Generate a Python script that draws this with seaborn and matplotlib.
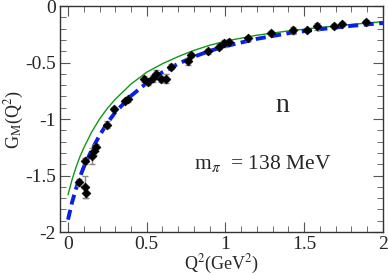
import numpy as np
import pandas as pd
import seaborn as sns
import matplotlib.pyplot as plt
from matplotlib.ticker import MultipleLocator

# lattice data points (Q^2, G_M, error)
q2_data = [0.07, 0.11, 0.115, 0.105, 0.15, 0.165, 0.175, 0.245, 0.29, 0.36, 0.38,
           0.48, 0.51, 0.54, 0.56, 0.59, 0.62, 0.655, 0.76, 0.78, 0.89, 0.96,
           0.99, 1.02, 1.14, 1.29, 1.43, 1.52, 1.58, 1.69, 1.74, 1.89]
gm_data = [-1.56, -1.60, -1.65, -1.37, -1.33, -1.28, -1.25, -1.05, -0.91, -0.84, -0.825,
           -0.645, -0.675, -0.64, -0.60, -0.645, -0.645, -0.537, -0.49, -0.435, -0.40, -0.36,
           -0.33, -0.315, -0.285, -0.24, -0.215, -0.21, -0.18, -0.177, -0.16, -0.14]
gm_err = [0.03, 0.10, 0.05, 0.03, 0.07, 0.04, 0.03, 0.03, 0.02, 0.02, 0.02,
          0.03, 0.02, 0.03, 0.03, 0.03, 0.04, 0.02, 0.03, 0.02, 0.02, 0.02,
          0.03, 0.02, 0.02, 0.02, 0.03, 0.02, 0.03, 0.02, 0.02, 0.02]

# green solid curve
q2_green = [0.0, 0.025, 0.05, 0.075, 0.1, 0.15, 0.2, 0.25, 0.3, 0.4, 0.5, 0.6, 0.7,
            0.8, 0.9, 1.0, 1.2, 1.4, 1.6, 1.8, 2.0]
gm_green = [-1.67, -1.54, -1.43, -1.335, -1.255, -1.115, -1.0, -0.905, -0.825, -0.69,
            -0.585, -0.51, -0.447, -0.392, -0.347, -0.31, -0.258, -0.22, -0.19, -0.163, -0.138]

# blue dashed curve
q2_blue = [0.0, 0.025, 0.05, 0.075, 0.1, 0.15, 0.2, 0.25, 0.3, 0.4, 0.5, 0.6, 0.7,
           0.8, 0.9, 1.0, 1.2, 1.4, 1.6, 1.8, 2.0]
gm_blue = [-1.89, -1.74, -1.62, -1.515, -1.425, -1.275, -1.145, -1.035, -0.94, -0.795,
           -0.68, -0.585, -0.51, -0.448, -0.397, -0.355, -0.29, -0.24, -0.205, -0.175, -0.15]

sns.set_style("ticks")
plt.rcParams['font.family'] = ['Liberation Serif', 'DejaVu Serif']
plt.rcParams['mathtext.fontset'] = 'stix'

fig = plt.figure(figsize=(3.88, 2.75), dpi=100)
ax = fig.add_axes([0.155, 0.156, 0.832, 0.822])

sns.lineplot(x=q2_green, y=gm_green, color='#119911', lw=1.0, ax=ax)
sns.lineplot(x=q2_blue, y=gm_blue, color='#0a1fe6', lw=2.8, ax=ax,
             linestyle=(0, (2.6, 1.4)))

ax.errorbar(q2_data, gm_data, yerr=gm_err, fmt='none', ecolor='#888888',
            elinewidth=1.0, capsize=2, capthick=1.0, zorder=3)
sns.scatterplot(x=q2_data, y=gm_data, marker='D', color='black', s=20,
                edgecolor='black', linewidth=0.5, ax=ax, zorder=4)

ax.set_xlim(-0.05, 2.0)
ax.set_ylim(-2.0, 0.0)
ax.xaxis.set_minor_locator(MultipleLocator(0.1))
ax.yaxis.set_minor_locator(MultipleLocator(0.1))
ax.set_xticks([0, 0.5, 1, 1.5, 2])
ax.set_xticklabels(['0', '0.5', '1', '1.5', '2'])
ax.set_yticks([-2, -1.5, -1, -0.5, 0])
ax.set_yticklabels(['-2', '-1.5', '-1', '-0.5', '0'])
ax.tick_params(which='both', direction='in', top=True, right=True, labelsize=14,
               color='#555555', pad=3)
ax.tick_params(which='major', length=7)
ax.tick_params(which='minor', length=4)
for s in ax.spines.values():
    s.set_linewidth(1.0)
    s.set_color('#333333')
    s.set_visible(True)

ax.set_xlabel(r'Q$^2$(GeV$^2$)', fontsize=13, labelpad=0)
ax.set_ylabel(r'G$_\mathrm{M}$(Q$^2$)', fontsize=13)
ax.yaxis.set_label_coords(-0.105, 0.5)

ax.text(1.36, -0.88, 'n', fontsize=20, ha='center', va='center')
ax.text(0.8, -1.39, r'm$_\pi$  = 138 MeV', fontsize=15.5, ha='left', va='center')

fig.savefig('out.png', dpi=100)
